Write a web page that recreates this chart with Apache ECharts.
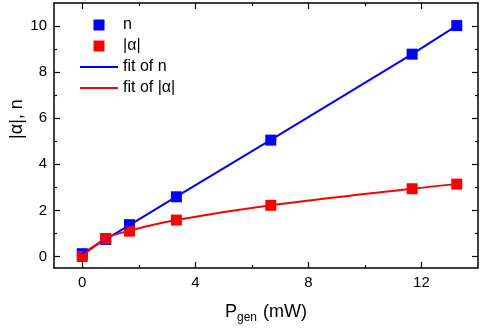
<!DOCTYPE html>
<html>
<head>
<meta charset="utf-8">
<script src="https://cdn.jsdelivr.net/npm/echarts@6/dist/echarts.min.js"></script>
<style>
  html, body { margin: 0; padding: 0; background: #fff; }
  #chart { width: 485px; height: 331px; }
</style>
</head>
<body>
<div id="chart"></div>
<script>
// generator power (mW)
var powers = [0, 0.83, 1.67, 3.33, 6.67, 11.67, 13.25];
// measured n and |alpha|
var nValues = [0.12, 0.74, 1.38, 2.59, 5.05, 8.78, 10.02];
var alphaValues = [0, 0.78, 1.1, 1.58, 2.22, 2.94, 3.14];
// fit curves at the same powers
var fitNValues = [0.12, 0.74, 1.36, 2.6, 5.06, 8.78, 10.02];
var fitAlphaValues = [0.02, 0.78, 1.12, 1.58, 2.22, 2.94, 3.14];

var xMajor = [0, 4, 8, 12];
var xMinor = [2, 6, 10];
var yMajor = [0, 2, 4, 6, 8, 10];
var yMinor = [1, 3, 5, 7, 9];

function pairs(xs, ys) {
    return xs.map(function (x, i) { return [x, ys[i]]; });
}

var FONT = '"Liberation Sans", Arial, sans-serif';
var black = '#000';

function xAxisDef(pos, ticks, len, line, labels) {
    return {
        type: 'value', position: pos, min: -1, max: 14,
        axisLine: { show: line, onZero: false, lineStyle: { color: black, width: 1.5 } },
        axisTick: { show: true, inside: true, length: len, customValues: ticks,
                    lineStyle: { color: black, width: 1.2 } },
        axisLabel: labels ? { show: true, customValues: ticks, color: black, fontSize: 15,
                              fontFamily: FONT, margin: 7 } : { show: false },
        splitLine: { show: false }
    };
}
function yAxisDef(pos, ticks, len, line, labels) {
    return {
        type: 'value', position: pos, min: -0.5, max: 11,
        axisLine: { show: line, onZero: false, lineStyle: { color: black, width: 1.5 } },
        axisTick: { show: true, inside: true, length: len, customValues: ticks,
                    lineStyle: { color: black, width: 1.2 } },
        axisLabel: labels ? { show: true, customValues: ticks, color: black, fontSize: 15,
                              fontFamily: FONT, margin: 7 } : { show: false },
        splitLine: { show: false }
    };
}

var xBottom = xAxisDef('bottom', xMajor, 6, true, true);
xBottom.name = '{p|P}{s|gen}{p| (mW)}';
xBottom.nameLocation = 'middle';
xBottom.nameGap = 33;
xBottom.nameMoveOverlap = false;
xBottom.nameTextStyle = {
    color: black, fontFamily: FONT,
    rich: {
        p: { fontSize: 18, fontFamily: FONT, color: black },
        s: { fontSize: 12, fontFamily: FONT, color: black, padding: [11, 1, 0, 0] }
    }
};

var yLeft = yAxisDef('left', yMajor, 6, true, true);
yLeft.name = '|α|, n';
yLeft.nameLocation = 'middle';
yLeft.nameGap = 28;
yLeft.nameMoveOverlap = false;
yLeft.nameTextStyle = { color: black, fontSize: 18, fontFamily: FONT, padding: [0, 0, 0, 33] };

var chart = echarts.init(document.getElementById('chart'));
var option = {
    animation: false,
    backgroundColor: '#fff',
    grid: { left: 54, right: 7, top: 3, bottom: 63, containLabel: false, outerBoundsMode: 'none' },
    legend: {
        orient: 'vertical', left: 80, top: 17, padding: 0, itemGap: 5,
        itemWidth: 38, itemHeight: 11,
        textStyle: { fontSize: 16, fontFamily: FONT, color: black },
        data: [
            { name: 'n', icon: 'path://M0,0H10V10H0Z' },
            { name: '|α|', icon: 'path://M0,0H10V10H0Z' },
            { name: 'fit of n', icon: 'path://M0,0H38V2H0Z' },
            { name: 'fit of |α|', icon: 'path://M0,0H38V2H0Z' }
        ]
    },
    xAxis: [
        xBottom,
        xAxisDef('bottom', xMinor, 3, false, false),
        xAxisDef('top', xMajor, 6, true, false),
        xAxisDef('top', xMinor, 3, false, false)
    ],
    yAxis: [
        yLeft,
        yAxisDef('left', yMinor, 3, false, false),
        yAxisDef('right', yMajor, 6, true, false),
        yAxisDef('right', yMinor, 3, false, false)
    ],
    series: [
        {
            name: 'fit of n', type: 'line', data: pairs(powers, fitNValues),
            symbol: 'none', lineStyle: { color: '#0000ff', width: 2 }, itemStyle: { color: '#0000ff' }
        },
        {
            name: 'n', type: 'scatter', data: pairs(powers, nValues),
            symbol: 'rect', symbolSize: 11, itemStyle: { color: '#0000ff', opacity: 1 }
        },
        {
            name: 'fit of |α|', type: 'line', data: pairs(powers, fitAlphaValues),
            symbol: 'none', smooth: 0.35, lineStyle: { color: '#ff0000', width: 2 }, itemStyle: { color: '#ff0000' }
        },
        {
            name: '|α|', type: 'scatter', data: pairs(powers, alphaValues),
            symbol: 'rect', symbolSize: 11, itemStyle: { color: '#ff0000', opacity: 1 }
        }
    ]
};
chart.setOption(option);
</script>
</body>
</html>
